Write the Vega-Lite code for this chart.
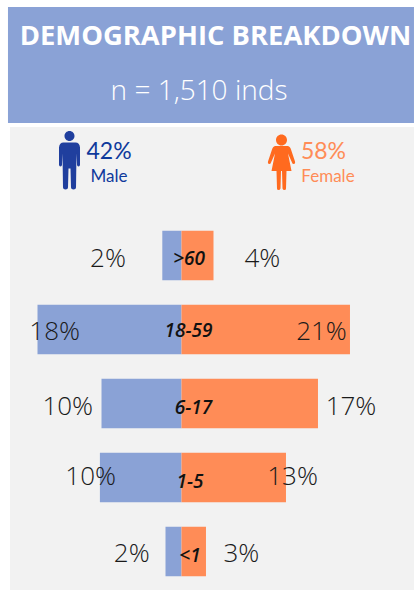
{"$schema":"https://vega.github.io/schema/vega-lite/v6.json","width":414,"height":590,"padding":0,"autosize":{"type":"fit","contains":"padding"},"background":"white","config":{"view":{"stroke":null}},
"datasets":{
"panels":[{"panel":"header","x":-21.69,"x2":29.06,"y":-2.358,"y2":-0.791,"color":"h"},{"panel":"body","x":-21.44,"x2":29.06,"y":-0.736,"y2":5.52,"color":"b"}],
"bars":[
{"age":">60","row":1,"sex":"Male","value":-2.4},{"age":">60","row":1,"sex":"Female","value":4},
{"age":"18-59","row":2,"sex":"Male","value":-18},{"age":"18-59","row":2,"sex":"Female","value":21.06},
{"age":"6-17","row":3,"sex":"Male","value":-10},{"age":"6-17","row":3,"sex":"Female","value":17.06},
{"age":"1-5","row":4,"sex":"Male","value":-10.2},{"age":"1-5","row":4,"sex":"Female","value":13.06},
{"age":"<1","row":5,"sex":"Male","value":-2},{"age":"<1","row":5,"sex":"Female","value":3.06}],
"pct":[
{"label":"2%","x":-9.19,"row":1.016},{"label":"4%","x":10.1,"row":1.016},
{"label":"18%","x":-15.85,"row":2.007},{"label":"21%","x":17.5,"row":2.007},
{"label":"10%","x":-14.22,"row":3.02},{"label":"17%","x":21.19,"row":3.02},
{"label":"10%","x":-11.35,"row":3.97},{"label":"13%","x":13.88,"row":3.97},
{"label":"2%","x":-6.22,"row":5.01},{"label":"3%","x":7.48,"row":5.01}],
"ages":[{"age":">60","x":0.94,"row":1.02},{"age":"18-59","x":0.875,"row":2.0},{"age":"6-17","x":1.51,"row":3.03},{"age":"1-5","x":1.06,"row":4.03},{"age":"<1","x":1.06,"row":5.04}]
},
"layer":[
{"data":{"name":"panels"},"mark":{"type":"rect"},"encoding":{"x":{"field":"x","type":"quantitative","scale":{"domain":[-22.6875,29.0625],"nice":false,"zero":false,"padding":0},"axis":null},"x2":{"field":"x2"},"y":{"field":"y","type":"quantitative","scale":{"domain":[-2.4527,5.5203],"nice":false,"zero":false,"reverse":true,"padding":0},"axis":null},"y2":{"field":"y2"},"color":{"field":"color","type":"nominal","scale":{"domain":["h","b"],"range":["#8aa2d6","#f2f2f2"]},"legend":null}}},
{"data":{"name":"bars"},"transform":[{"filter":"datum.sex==='Male'"}],"mark":{"type":"bar","orient":"horizontal","size":49.5,"fill":"#8aa2d6"},"encoding":{"x":{"field":"value","type":"quantitative","stack":null},"y":{"field":"row","type":"quantitative"}}},
{"data":{"name":"bars"},"transform":[{"filter":"datum.sex==='Female'"}],"mark":{"type":"bar","orient":"horizontal","size":49.5,"fill":"#ff8c57"},"encoding":{"x":{"field":"value","type":"quantitative","stack":null},"y":{"field":"row","type":"quantitative"}}},
{"data":{"name":"pct"},"mark":{"type":"text","font":"Open Sans","fontWeight":300,"fontSize":26,"fill":"#1a1a1a","align":"center","baseline":"middle","dy":2},"encoding":{"x":{"field":"x","type":"quantitative"},"y":{"field":"row","type":"quantitative"},"text":{"field":"label"}}},
{"data":{"name":"ages"},"mark":{"type":"text","font":"Open Sans","fontWeight":600,"fontStyle":"italic","fontSize":19,"fill":"#111111","align":"center","baseline":"middle","dy":2},"encoding":{"x":{"field":"x","type":"quantitative"},"y":{"field":"row","type":"quantitative"},"text":{"field":"age"}}},
{"data":{"values":[{"t":"DEMOGRAPHIC BREAKDOWN","x":4.25,"row":-1.98}]},"mark":{"type":"text","font":"Open Sans","fontWeight":700,"fontSize":27.4,"fill":"white","align":"center","baseline":"middle","dy":2},"encoding":{"x":{"field":"x","type":"quantitative"},"y":{"field":"row","type":"quantitative"},"text":{"field":"t"}}},
{"data":{"values":[{"t":"n = 1,510 inds","x":2.19,"row":-1.236}]},"mark":{"type":"text","font":"Open Sans","fontWeight":300,"fontSize":28,"fill":"white","align":"center","baseline":"middle","dy":2},"encoding":{"x":{"field":"x","type":"quantitative"},"y":{"field":"row","type":"quantitative"},"text":{"field":"t"}}},
{"data":{"values":[{"sex":"Male","x":-14,"row":-0.284}]},"mark":{"type":"point","filled":true,"opacity":1,"size":4,"fill":"#203f9e","strokeWidth":0,"shape":"M-5,-24.5a5,5 0 1,0 10,0a5,5 0 1,0 -10,0Z M-6,-18 L6,-18 Q10,-18 10.5,-13 L10.5,4 Q10.5,6 9,6 Q7.5,6 7.5,4 L7,-7 L6.5,27 Q6.5,29 4,29 Q1.5,29 1.5,27 L1,8 L-1,8 L-1.5,27 Q-1.5,29 -4,29 Q-6.5,29 -6.5,27 L-7,-7 L-7.5,4 Q-7.5,6 -9,6 Q-10.5,6 -10.5,4 L-10.5,-13 Q-10,-18 -6,-18 Z"},"encoding":{"x":{"field":"x","type":"quantitative"},"y":{"field":"row","type":"quantitative"}}},
{"data":{"values":[{"sex":"Female","x":12.5,"row":-0.27}]},"mark":{"type":"point","filled":true,"opacity":1,"size":4,"fill":"#ff6a1f","strokeWidth":0,"shape":"M-5.5,-21.5a5.5,5.5 0 1,0 11,0a5.5,5.5 0 1,0 -11,0Z M-6,-15.5 L6,-15.5 Q8.5,-15.5 9.5,-12 L13.5,0 Q14,2.5 12,2.5 Q11,2.5 10.5,1 L6.5,-8 L10,9.5 L5,9.5 L4.5,27 Q4.5,28.5 3,28.5 Q1.5,28.5 1,27 L0.5,9.5 L-0.5,9.5 L-1,27 Q-1.5,28.5 -3,28.5 Q-4.5,28.5 -4.5,27 L-5,9.5 L-10,9.5 L-6.5,-8 L-10.5,1 Q-11,2.5 -12,2.5 Q-14,2.5 -13.5,0 L-9.5,-12 Q-8.5,-15.5 -6,-15.5 Z"},"encoding":{"x":{"field":"x","type":"quantitative"},"y":{"field":"row","type":"quantitative"}}},
{"data":{"values":[{"t":"42%","x":-9.06,"row":-0.41}]},"mark":{"type":"text","font":"Lato","fontSize":23,"fill":"#0f3a9c","align":"center","baseline":"middle","dy":1},"encoding":{"x":{"field":"x","type":"quantitative"},"y":{"field":"row","type":"quantitative"},"text":{"field":"t"}}},
{"data":{"values":[{"t":"Male","x":-9.06,"row":-0.074}]},"mark":{"type":"text","font":"Lato","fontSize":17,"fill":"#0f3a9c","align":"center","baseline":"middle","dy":1},"encoding":{"x":{"field":"x","type":"quantitative"},"y":{"field":"row","type":"quantitative"},"text":{"field":"t"}}},
{"data":{"values":[{"t":"58%","x":17.75,"row":-0.41}]},"mark":{"type":"text","font":"Lato","fontSize":23,"fill":"#ff8c57","align":"center","baseline":"middle","dy":1},"encoding":{"x":{"field":"x","type":"quantitative"},"y":{"field":"row","type":"quantitative"},"text":{"field":"t"}}},
{"data":{"values":[{"t":"Female","x":18.31,"row":-0.074}]},"mark":{"type":"text","font":"Lato","fontSize":17,"fill":"#ff8c57","align":"center","baseline":"middle","dy":1},"encoding":{"x":{"field":"x","type":"quantitative"},"y":{"field":"row","type":"quantitative"},"text":{"field":"t"}}}
]}
